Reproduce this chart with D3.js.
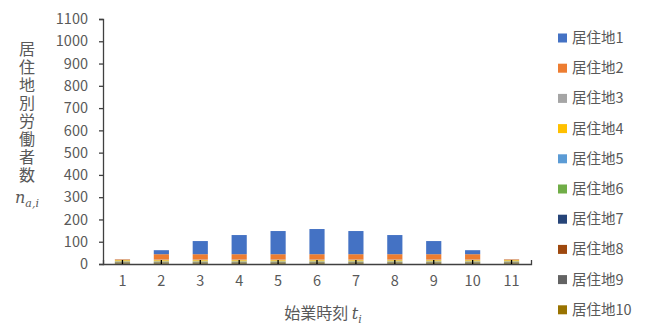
<!DOCTYPE html>
<html>
<head>
<meta charset="utf-8">
<script src="https://cdn.jsdelivr.net/npm/d3@7"></script>
<style>
  html, body { margin: 0; padding: 0; background: #fff; }
  svg text { font-family: "Noto Sans CJK JP", "Noto Sans", sans-serif; }
</style>
</head>
<body>
<svg id="chart" width="647" height="327"></svg>
<script>
// Start times t_i
const categories = ["1", "2", "3", "4", "5", "6", "7", "8", "9", "10", "11"];
// Residence names (series)
const seriesNames = ["居住地1", "居住地2", "居住地3", "居住地4", "居住地5",
                     "居住地6", "居住地7", "居住地8", "居住地9", "居住地10"];
const seriesColors = ["#4472C4", "#ED7D31", "#A5A5A5", "#FFC000", "#5B9BD5",
                      "#70AD47", "#264478", "#9E480E", "#636363", "#997300"];
// Workers per residence for each start time
const residence1  = [0, 18, 59, 86, 104, 113, 104, 86, 59, 18, 0];
const residence2  = [2, 24, 24, 24, 24, 24, 24, 24, 24, 24, 2];
const residence3  = [3, 3, 3, 3, 3, 3, 3, 3, 3, 3, 3];
const residence4  = [5, 5, 5, 5, 5, 5, 5, 5, 5, 5, 5];
const residence5  = [2, 2, 2, 2, 2, 2, 2, 2, 2, 2, 2];
const residence6  = [2, 2, 2, 2, 2, 2, 2, 2, 2, 2, 2];
const residence7  = [1, 1, 1, 1, 1, 1, 1, 1, 1, 1, 1];
const residence8  = [2, 2, 2, 2, 2, 2, 2, 2, 2, 2, 2];
const residence9  = [2, 2, 2, 2, 2, 2, 2, 2, 2, 2, 2];
const residence10 = [3, 3, 3, 3, 3, 3, 3, 3, 3, 3, 3];
const yTicks = [0, 100, 200, 300, 400, 500, 600, 700, 800, 900, 1000, 1100];

const seriesValues = [residence1, residence2, residence3, residence4, residence5,
                      residence6, residence7, residence8, residence9, residence10];

const svg = d3.select("#chart");
const plot = { left: 103, right: 531, top: 19, bottom: 264 };
const textColor = "#595959";
const axisColor = "#404040";

const x = d3.scaleBand()
  .domain(categories)
  .range([plot.left, plot.right])
  .paddingInner(0.61)
  .paddingOuter(0.305);

const y = d3.scaleLinear().domain([0, 1100]).range([plot.bottom, plot.top]);

// Rows for stacking; the last residence sits at the bottom of each column
const rows = categories.map((c, i) => {
  const r = { cat: c };
  seriesNames.forEach((s, k) => { r[s] = seriesValues[k][i]; });
  return r;
});
const stackKeys = seriesNames.slice().reverse();
const stacked = d3.stack().keys(stackKeys)(rows);

const colorOf = d3.scaleOrdinal().domain(seriesNames).range(seriesColors);

svg.append("g")
  .selectAll("g")
  .data(stacked)
  .join("g")
  .attr("fill", d => colorOf(d.key))
  .selectAll("rect")
  .data(d => d)
  .join("rect")
  .attr("x", d => x(d.data.cat))
  .attr("width", x.bandwidth())
  .attr("y", d => y(d[1]))
  .attr("height", d => Math.max(0, y(d[0]) - y(d[1])));

// Y axis
const yAxis = svg.append("g")
  .attr("transform", `translate(${plot.left},0)`)
  .call(d3.axisLeft(y).tickValues(yTicks).tickFormat(d3.format("d"))
    .tickSize(4).tickPadding(11));
yAxis.select(".domain").attr("stroke", axisColor).attr("stroke-width", 1.3);
yAxis.selectAll(".tick line").attr("stroke", axisColor).attr("stroke-width", 1.3);
yAxis.selectAll(".tick text")
  .attr("fill", textColor)
  .style("font-size", "14.5px");

// X axis with short inward ticks at each column
const xAxis = svg.append("g")
  .attr("transform", `translate(0,${plot.bottom})`)
  .call(d3.axisBottom(x).tickSize(-4).tickSizeOuter(-4).tickPadding(12));
xAxis.select(".domain").attr("stroke", axisColor).attr("stroke-width", 1.3);
xAxis.selectAll(".tick line").attr("stroke", "#000").attr("stroke-width", 1.3);
xAxis.selectAll(".tick text")
  .attr("fill", textColor)
  .style("font-size", "14.5px");

// Y axis title, written vertically
svg.append("text")
  .attr("x", 27)
  .attr("y", 41)
  .attr("fill", textColor)
  .style("writing-mode", "vertical-rl")
  .style("letter-spacing", "2px")
  .style("font-size", "16px")
  .text("居住地別労働者数");
const nai = svg.append("text")
  .attr("x", 27)
  .attr("y", 203)
  .attr("text-anchor", "middle")
  .attr("fill", textColor)
  .style("font-family", "'DejaVu Serif', serif")
  .style("font-style", "italic")
  .style("font-size", "16px");
nai.append("tspan").text("n");
nai.append("tspan").attr("dy", 4).style("font-size", "11px").text("a,i");

// X axis title
const xt = svg.append("text")
  .attr("x", 323)
  .attr("y", 319)
  .attr("text-anchor", "middle")
  .attr("fill", textColor)
  .style("font-size", "16px");
xt.append("tspan").text("始業時刻 ");
xt.append("tspan")
  .style("font-family", "'DejaVu Serif', serif")
  .style("font-style", "italic")
  .text("t");
xt.append("tspan")
  .attr("dy", 4)
  .style("font-family", "'DejaVu Serif', serif")
  .style("font-style", "italic")
  .style("font-size", "11px")
  .text("i");

// Legend
const legend = svg.append("g");
seriesNames.forEach((s, i) => {
  const cy = 38 + i * 30.2;
  legend.append("rect")
    .attr("x", 558).attr("y", cy - 4.5)
    .attr("width", 9).attr("height", 9)
    .attr("fill", colorOf(s));
  legend.append("text")
    .attr("x", 572).attr("y", cy)
    .attr("dy", "0.35em")
    .attr("fill", textColor)
    .style("font-size", "14.5px")
    .text(s);
});
</script>
</body>
</html>
